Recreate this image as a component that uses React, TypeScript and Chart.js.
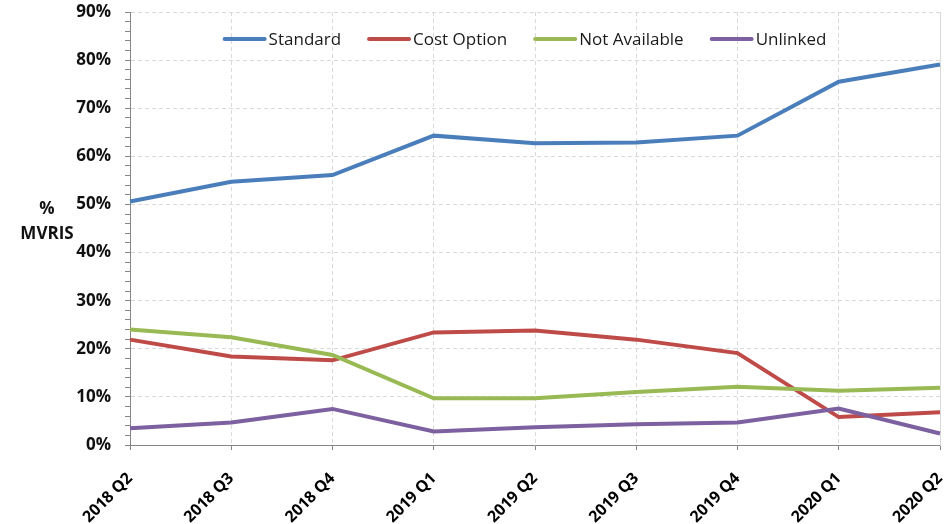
import React, { useEffect, useRef } from 'react';
import { Chart, registerables } from 'chart.js';

Chart.register(...registerables);

const categories = ['2018 Q2', '2018 Q3', '2018 Q4', '2019 Q1', '2019 Q2', '2019 Q3', '2019 Q4', '2020 Q1', '2020 Q2'];
const standard = [50.6, 54.7, 56.1, 64.3, 62.7, 62.9, 64.3, 75.5, 79.1];
const costOption = [21.9, 18.4, 17.6, 23.4, 23.8, 21.9, 19.1, 5.8, 6.8];
const notAvailable = [24.0, 22.4, 18.7, 9.7, 9.7, 11.0, 12.1, 11.3, 11.9];
const unlinked = [3.5, 4.7, 7.5, 2.8, 3.7, 4.3, 4.7, 7.6, 2.4];
const seriesNames = ['Standard', 'Cost Option', 'Not Available', 'Unlinked'];
const seriesColors = ['#4A7EBB', '#BE4B48', '#98B954', '#7D60A0'];
const yTitleLines = ['%', 'MVRIS'];
const yMin = 0;
const yMax = 90;
const yMinorStep = 2;
const yMajorStep = 10;

const FONT = '"Open Sans", "DejaVu Sans", sans-serif';

const overlayPlugin = {
  id: 'overlay',
  afterDraw(chart: any) {
    const ctx = chart.ctx;
    const area = chart.chartArea;
    ctx.save();
    // y title
    ctx.font = `bold 17px ${FONT}`;
    ctx.fillStyle = '#111';
    ctx.textAlign = 'center';
    ctx.textBaseline = 'middle';
    const yScale = chart.scales.y;
    const midY = yScale.getPixelForValue(46.5);
    ctx.fillText(yTitleLines[0], 47, midY - 12);
    ctx.fillText(yTitleLines[1], 47, midY + 13);

    // legend
    ctx.font = `17px ${FONT}`;
    const lineLen = 42;
    const gapLT = 3;
    const gapItems = 27;
    const ds = chart.data.datasets;
    const widths = ds.map((d: any) => lineLen + gapLT + ctx.measureText(d.label).width);
    const total = widths.reduce((a: number, b: number) => a + b, 0) + gapItems * (ds.length - 1);
    let x = (area.left + area.right) / 2 - 10 - total / 2;
    const ly = area.top + 27;
    ds.forEach((d: any, i: number) => {
      ctx.strokeStyle = d.borderColor;
      ctx.lineWidth = 4;
      ctx.lineCap = 'round';
      ctx.beginPath();
      ctx.moveTo(x + 1, ly);
      ctx.lineTo(x + lineLen - 1, ly);
      ctx.stroke();
      ctx.fillStyle = '#1a1a1a';
      ctx.textAlign = 'left';
      ctx.textBaseline = 'middle';
      ctx.fillText(d.label, x + lineLen + gapLT, ly + 1);
      x += widths[i] + gapItems;
    });
    ctx.restore();
  },
};

export default function App() {
  const canvasRef = useRef<HTMLCanvasElement | null>(null);

  useEffect(() => {
    document.body.style.margin = '0';
    const canvas = canvasRef.current;
    if (!canvas) return;
    const seriesValues = [standard, costOption, notAvailable, unlinked];
    const chart = new Chart(canvas, {
      type: 'line',
      data: {
        labels: categories,
        datasets: seriesValues.map((vals, i) => ({
          label: seriesNames[i],
          data: vals,
          borderColor: seriesColors[i],
          backgroundColor: seriesColors[i],
          borderWidth: 4,
          pointRadius: 0,
          pointHoverRadius: 0,
          tension: 0,
          fill: false,
          order: seriesValues.length - i,
        })),
      },
      options: {
        animation: false,
        responsive: false,
        devicePixelRatio: 1,
        layout: { padding: { top: 12, right: 9, left: 0, bottom: 0 } },
        plugins: {
          legend: { display: false },
          tooltip: { enabled: false },
          title: { display: false },
        },
        scales: {
          x: {
            type: 'category',
            offset: false,
            grid: {
              color: '#d9d9d9',
              lineWidth: 1,
              tickColor: '#868686',
              tickLength: 5,
              drawTicks: true,
            },
            border: { display: true, color: '#868686', width: 1, dash: [4, 3] },
            ticks: {
              autoSkip: false,
              maxRotation: 45,
              minRotation: 45,
              padding: 19,
              color: '#000',
              font: { family: FONT, size: 16, weight: 'bold' },
            },
            afterFit(scale: any) {
              scale.height = 79;
              scale.paddingRight = 6;
            },
          },
          y: {
            type: 'linear',
            min: yMin,
            max: yMax,
            grid: {
              color: (c: any) => (c.tick && c.tick.value % yMajorStep === 0 ? '#d9d9d9' : 'rgba(0,0,0,0)'),
              lineWidth: 1,
              tickColor: '#868686',
              tickLength: 5,
            },
            border: { display: true, color: '#868686', width: 1, dash: [4, 3] },
            ticks: {
              stepSize: yMinorStep,
              autoSkip: false,
              padding: 14,
              color: '#111',
              font: { family: FONT, size: 17, weight: 'bold' },
              callback: (v: any) => (Number(v) % yMajorStep === 0 ? `${v}%` : ''),
            },
            afterFit(scale: any) {
              scale.width = 130;
              scale.paddingTop = 8;
              scale.paddingBottom = 8;
            },
          },
          y2: {
            type: 'linear',
            position: 'right',
            min: yMin,
            max: yMax,
            grid: { display: false, drawOnChartArea: false, drawTicks: false },
            border: { display: true, color: '#d9d9d9', width: 1 },
            ticks: { display: false },
            afterFit(scale: any) {
              scale.width = 0;
              scale.paddingTop = 0;
              scale.paddingBottom = 0;
            },
          },
        },
      },
      plugins: [overlayPlugin],
    });
    return () => chart.destroy();
  }, []);

  return (
    <div style={{ width: 949, height: 524, background: '#fff' }}>
      <canvas ref={canvasRef} width={949} height={524} style={{ display: 'block' }} />
    </div>
  );
}
